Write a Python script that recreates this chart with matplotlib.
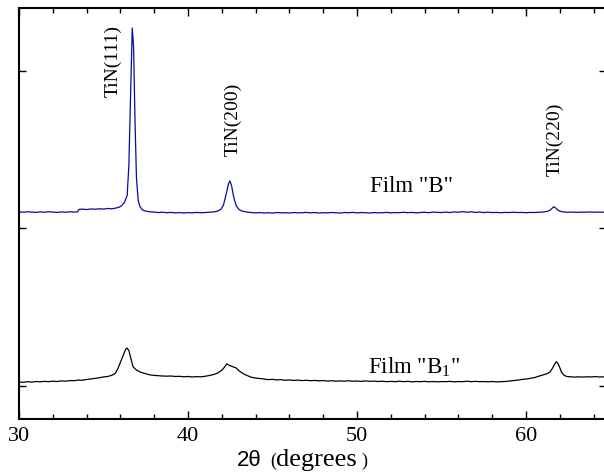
import matplotlib
matplotlib.use("Agg")
import matplotlib.pyplot as plt
from matplotlib.ticker import MultipleLocator

# film "B" (blue, upper trace)
film_b_x = [30.0, 30.25, 30.5, 30.75, 31.0, 31.25, 31.5, 31.75, 32.0, 32.25, 32.5, 32.75,
            33.0, 33.25, 33.45, 33.55, 33.75, 34.0, 34.25, 34.5, 34.75, 35.0, 35.25, 35.5,
            35.75, 35.95, 36.1, 36.25, 36.4, 36.5, 36.6, 36.7, 36.78, 36.86, 36.95, 37.05,
            37.15, 37.3, 37.5, 37.75, 38.0, 38.25, 38.5, 38.75, 39.0, 39.25, 39.5, 39.75,
            40.0, 40.25, 40.5, 40.75, 41.0, 41.25, 41.5, 41.75, 41.95, 42.1, 42.25, 42.4,
            42.48, 42.58, 42.7, 42.85, 43.0, 43.2, 43.5, 43.75, 44.0, 44.25, 44.5, 44.75,
            45.0, 45.25, 45.5, 45.75, 46.0, 46.25, 46.5, 46.75, 47.0, 47.25, 47.5, 47.75,
            48.0, 48.25, 48.5, 48.75, 49.0, 49.25, 49.5, 49.75, 50.0, 50.25, 50.5, 50.75,
            51.0, 51.25, 51.5, 51.75, 52.0, 52.25, 52.5, 52.75, 53.0, 53.25, 53.5, 53.75,
            54.0, 54.25, 54.5, 54.75, 55.0, 55.25, 55.5, 55.75, 56.0, 56.25, 56.5, 56.75,
            57.0, 57.25, 57.5, 57.75, 58.0, 58.25, 58.5, 58.75, 59.0, 59.25, 59.5, 59.75,
            60.0, 60.25, 60.5, 60.75, 61.0, 61.25, 61.45, 61.6, 61.68, 61.8, 61.95, 62.15,
            62.4, 62.75, 63.0, 63.25, 63.5, 63.75, 64.0, 64.25, 64.5, 64.75]
film_b_y = [1105, 1103, 1106, 1104, 1102, 1105, 1103, 1106, 1104, 1102, 1105, 1103,
            1106, 1104, 1105, 1121, 1123, 1120, 1124, 1122, 1125, 1123, 1127, 1125,
            1130, 1136, 1148, 1168, 1210, 1400, 1850, 2273, 2150, 1700, 1320, 1180,
            1140, 1118, 1110, 1106, 1104, 1101, 1103, 1100, 1102, 1099, 1101, 1098,
            1101, 1099, 1102, 1100, 1101, 1103, 1105, 1110, 1122, 1150, 1215, 1285,
            1302, 1270, 1200, 1145, 1122, 1110, 1104, 1101, 1099, 1101, 1098, 1100,
            1098, 1101, 1099, 1100, 1098, 1101, 1099, 1100, 1102, 1099, 1101, 1098,
            1100, 1099, 1101, 1100, 1098, 1101, 1100, 1102, 1099, 1101, 1100, 1098,
            1101, 1099, 1100, 1102, 1099, 1101, 1100, 1103, 1100, 1102, 1099, 1101,
            1103, 1100, 1104, 1102, 1101, 1104, 1101, 1105, 1103, 1107, 1103, 1106,
            1102, 1104, 1101, 1103, 1101, 1102, 1100, 1102, 1101, 1103, 1101, 1102,
            1100, 1102, 1101, 1103, 1104, 1108, 1118, 1135, 1137, 1125, 1112, 1106,
            1103, 1104, 1102, 1104, 1103, 1105, 1103, 1104, 1103, 1104]

# film "B1" (black, lower trace)
film_b1_x = [30.0, 30.25, 30.5, 30.75, 31.0, 31.25, 31.5, 31.75, 32.0, 32.25, 32.5, 32.75,
             33.0, 33.25, 33.5, 33.75, 34.0, 34.25, 34.5, 34.75, 35.0, 35.25, 35.5, 35.7,
             35.85, 36.0, 36.15, 36.3, 36.38, 36.5, 36.62, 36.75, 36.9, 37.05, 37.15, 37.35,
             37.55, 37.75, 38.0, 38.25, 38.5, 38.75, 39.0, 39.25, 39.5, 39.75, 40.0, 40.25,
             40.5, 40.75, 41.0, 41.25, 41.5, 41.75, 42.0, 42.15, 42.29, 42.4, 42.55, 42.7,
             42.85, 43.0, 43.15, 43.3, 43.5, 43.75, 44.0, 44.25, 44.5, 44.75, 45.0, 45.25,
             45.5, 45.75, 46.0, 46.25, 46.5, 46.75, 47.0, 47.25, 47.5, 47.75, 48.0, 48.25,
             48.5, 48.75, 49.0, 49.25, 49.5, 49.75, 50.0, 50.25, 50.5, 50.75, 51.0, 51.25,
             51.5, 51.75, 52.0, 52.25, 52.5, 52.75, 53.0, 53.25, 53.5, 53.75, 54.0, 54.25,
             54.5, 54.75, 55.0, 55.25, 55.5, 55.75, 56.0, 56.25, 56.5, 56.75, 57.0, 57.25,
             57.5, 57.75, 58.0, 58.25, 58.5, 58.75, 59.0, 59.25, 59.5, 59.75, 60.0, 60.25,
             60.5, 60.75, 61.0, 61.2, 61.4, 61.55, 61.7, 61.8, 61.9, 62.0, 62.1, 62.25,
             62.4, 62.6, 62.85, 63.1, 63.35, 63.6, 63.85, 64.1, 64.35, 64.6, 64.8]
film_b1_y = [25, 23, 27, 24, 28, 26, 29, 27, 30, 28, 32, 30,
             34, 33, 37, 36, 41, 44, 48, 52, 57, 60, 68, 80,
             110, 150, 190, 230, 241, 225, 175, 121, 105, 95, 89, 82,
             76, 70, 67, 65, 63, 62, 63, 60, 61, 58, 60, 57,
             59, 58, 61, 66, 72, 82, 100, 118, 140, 133, 126, 120,
             114, 98, 86, 76, 66, 55, 50, 47, 44, 40, 42, 38,
             40, 36, 38, 35, 37, 34, 36, 33, 35, 32, 34, 31,
             33, 30, 32, 30, 33, 30, 31, 29, 32, 29, 31, 28,
             30, 27, 29, 27, 30, 27, 29, 26, 28, 27, 29, 26,
             28, 26, 28, 27, 29, 26, 28, 27, 30, 27, 29, 27,
             28, 26, 28, 26, 27, 28, 31, 34, 37, 41, 44, 48,
             53, 62, 70, 76, 86, 110, 140, 154, 140, 115, 86, 68,
             60, 58, 56, 58, 56, 58, 57, 59, 57, 58, 57]

peak_labels = ["TiN(111)", "TiN(200)", "TiN(220)"]
peak_label_x = [35.56, 42.66, 61.72]
peak_label_y = [2064, 1695, 1568]

serif = "Liberation Serif"
sans = "Liberation Sans"
plt.rcParams["mathtext.fontset"] = "stix"

fig = plt.figure(figsize=(6.04, 4.75), dpi=100)
ax = fig.add_axes([19 / 604, 56 / 475, 587 / 604, 411 / 475])

ax.plot(film_b_x, film_b_y, color="#0a0aa0", lw=0.9)
ax.plot(film_b1_x, film_b1_y, color="black", lw=0.9)

for lab, lx, ly in zip(peak_labels, peak_label_x, peak_label_y):
    ax.text(lx, ly, lab, rotation=90, ha="center", va="center",
            fontsize=14, family=serif)

ax.text(50.77, 1230, 'Film "B"', fontsize=16.5, family=serif, ha="left", va="baseline")
ax.text(50.65, 81, 'Film "B$_\\mathregular{1}$"', fontsize=16.5, family=serif,
        ha="left", va="baseline")

ax.set_xlim(30, 64.73)
ax.set_ylim(-210, 2400)
ax.xaxis.set_major_locator(MultipleLocator(10))
ax.xaxis.set_minor_locator(MultipleLocator(2))
ax.set_yticks([0, 1000, 2000])
ax.set_yticklabels([])
ax.tick_params(axis="x", which="major", direction="in", top=True, length=6, width=1,
               labelsize=16, pad=6)
ax.tick_params(axis="x", which="minor", direction="in", top=True, length=3.5, width=1)
ax.tick_params(axis="y", which="major", direction="in", left=True, right=True,
               length=5, width=1)
for lab in ax.get_xticklabels():
    lab.set_family(serif)
for sp in ax.spines.values():
    sp.set_linewidth(1.5)

# axis title built from pieces: sans "2θ", small serif brackets, serif "degrees"
base_y = 9 / 475
fig.text(236.7 / 604, base_y, "2θ", family=sans, fontsize=16, va="baseline")
fig.text(270 / 604, base_y, "(", family=serif, fontsize=13, va="baseline")
fig.text(276 / 604, base_y, "degrees", family=serif, fontsize=19, va="baseline")
fig.text(361 / 604, base_y, ")", family=serif, fontsize=13, va="baseline")

fig.savefig("out.png", dpi=100)
